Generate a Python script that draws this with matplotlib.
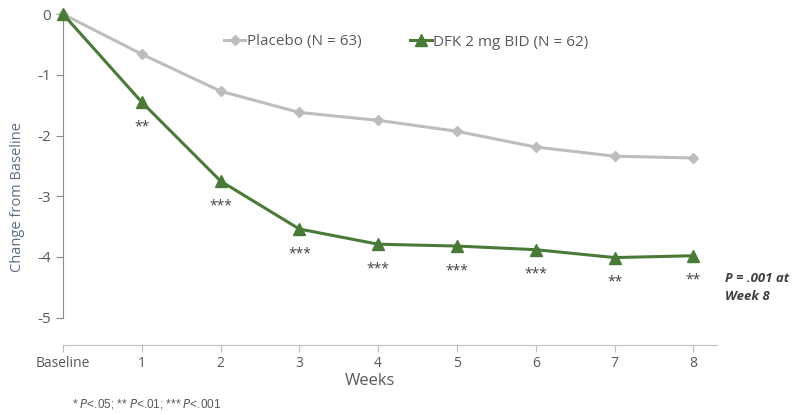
import numpy as np
import matplotlib.pyplot as plt

plt.rcParams['font.family'] = ['Open Sans', 'DejaVu Sans']

weeks = [0, 1, 2, 3, 4, 5, 6, 7, 8]
week_labels = ['Baseline', '1', '2', '3', '4', '5', '6', '7', '8']
placebo = [0, -0.66, -1.27, -1.62, -1.75, -1.93, -2.19, -2.34, -2.37]
dfk = [0, -1.45, -2.75, -3.54, -3.79, -3.82, -3.88, -4.01, -3.98]
stars = ['', '**', '***', '***', '***', '***', '***', '**', '**']

green = '#4a7a38'
gray = '#bdbdbd'
txt = '#595959'

fig = plt.figure(figsize=(7.96, 4.15), dpi=100)
ax = fig.add_axes([63/796, 70/415, 654/796, 340/415])

ax.plot(weeks, placebo, color=gray, lw=2.2, marker='D', ms=5.5,
        label='Placebo (N = 63)', clip_on=False, zorder=3)
ax.plot(weeks, dfk, color=green, lw=2.2, marker='^', ms=9,
        label='DFK 2 mg BID (N = 62)', clip_on=False, zorder=4)

for w, v, s in zip(weeks, dfk, stars):
    if s:
        ax.text(w, v - 0.28, s, ha='center', va='top', fontsize=10, color='#404040')

ax.set_xlim(0, 8.3)
ax.set_ylim(-5.45, 0.15)
ax.set_xticks(weeks)
ax.set_xticklabels(week_labels)
ax.set_yticks([0, -1, -2, -3, -4, -5])
ax.set_yticklabels(['0', '-1', '-2', '-3', '-4', '-5'])
ax.spines['top'].set_visible(False)
ax.spines['right'].set_visible(False)
ax.spines['left'].set_bounds(-5, 0)
ax.spines['left'].set_color('#8c8c8c')
ax.spines['bottom'].set_color('#bfbfbf')
ax.tick_params(axis='y', colors='#8c8c8c', labelcolor=txt, labelsize=11, length=5)
ax.tick_params(axis='x', colors='#bfbfbf', labelcolor=txt, labelsize=10, length=5, pad=3)

ax.set_ylabel('Change from Baseline', color='#5b6e84', fontsize=10.5)
ax.yaxis.set_label_coords((18 - 63) / 654, (345 - 197) / 340)
ax.yaxis.label.set_va('center')
ax.set_xlabel('Weeks', color=txt, fontsize=12)
ax.xaxis.set_label_coords((370 - 63) / 654, -(381 - 345) / 340)
ax.xaxis.label.set_va('center')

ax.legend(loc='center', bbox_to_anchor=(0.525, (345 - 42) / 340), ncol=2, frameon=False,
          fontsize=11, labelcolor=txt, handlelength=1.4, columnspacing=3.2,
          handletextpad=0.1)

fig.text(725/796, 1 - 287/415, 'P = .001 at\nWeek 8', fontsize=9.5, fontweight='bold',
         style='italic', color='#404040', va='center', ha='left', linespacing=1.5)
fig.text(72/796, 1 - 404/415, '* $\\it{P}$<.05; ** $\\it{P}$<.01; *** $\\it{P}$<.001',
         fontsize=8.5, color=txt, va='center', ha='left', family='Liberation Sans')

plt.savefig('out.png', dpi=100)
